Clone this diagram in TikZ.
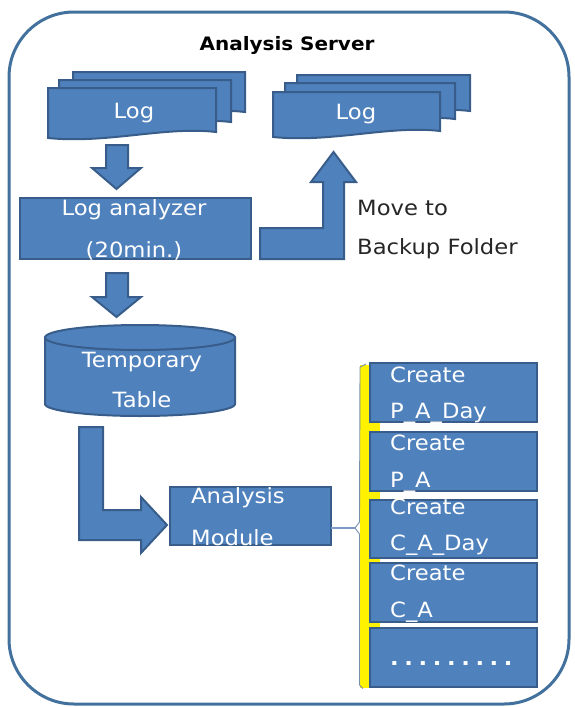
\documentclass[tikz,border=0pt]{standalone}
\usepackage{fontspec}
\setmainfont{DejaVu Sans}[FakeStretch=1.08]
\definecolor{boxfill}{HTML}{4F81BD}
\definecolor{boxline}{HTML}{385D8A}
\definecolor{frameline}{HTML}{41719C}
\definecolor{connline}{HTML}{7F9CC8}
\newcommand\docshape[4]{\filldraw[blk] (#1,#3) -- (#2,#3) -- (#2,{#4-6}) .. controls ({#2-0.3*(#2-#1)},{#4-12}) and ({#1+0.35*(#2-#1)},{#4+6}) .. (#1,#4) -- cycle;}
\newcommand\dd{.\kern5.6pt}
\begin{document}
\begin{tikzpicture}[x=1pt,y=-1pt,
  blk/.style={fill=boxfill, draw=boxline, line width=2pt},
  boxnode/.style={blk, inner sep=0pt, outer sep=0pt},
  wtxt/.style={text=white, font=\fontsize{21}{23}\selectfont, inner sep=0pt},
  btxt/.style={text=black!85, font=\fontsize{21}{23}\selectfont, inner sep=0pt, anchor=west},
  conn/.style={draw=connline, line width=1.2pt}]
\useasboundingbox (0,0) rectangle (574,707);
% outer frame
\draw[frameline, line width=3pt, rounded corners=65pt] (9,12) rectangle (569,704);
\node[font=\bfseries\fontsize{18.5}{20}\selectfont, inner sep=0pt] (title) at (287,45) {Analysis Server};
% Log stack 1
\docshape{73}{245}{72}{118}
\docshape{59}{231}{80}{128}
\docshape{48}{216}{88}{138}
\node[wtxt] (log1) at (134,113) {Log};
% Log stack 2
\docshape{297}{470}{75}{117}
\docshape{285}{455}{83}{125}
\docshape{273}{440}{92}{137}
\node[wtxt] (log2) at (356,114) {Log};
% arrow Log -> Log analyzer
\filldraw[blk] (106,145) -- (128,145) -- (128,168) -- (141,168) -- (116.5,189) -- (92,168) -- (106,168) -- cycle;
% Log analyzer box
\node[boxnode, minimum width=231pt, minimum height=61pt] (la) at (135.5,228.5) {};
\node[wtxt] (la1) at (134,210) {Log analyzer};
\node[wtxt] (la2) at (134,251) {(20min.)};
% bent arrow up to backup Log
\filldraw[blk] (260,228) -- (323,228) -- (323,182) -- (311,182) -- (333.5,152) -- (356,182) -- (344,182) -- (344,259) -- (260,259) -- cycle;
\node[btxt] (mv1) at (357,208) {Move to};
\node[btxt] (mv2) at (357,249) {Backup Folder};
% arrow Log analyzer -> Temporary Table
\filldraw[blk] (106,273) -- (128,273) -- (128,297) -- (141,297) -- (116.5,317) -- (92,297) -- (106,297) -- cycle;
% cylinder
\filldraw[blk] (45,337.5) -- (45,404) arc[start angle=180, end angle=0, x radius=95, y radius=12] -- (235,337.5) -- cycle;
\filldraw[blk] (140,337.5) ellipse[x radius=95, y radius=12.5];
\node[wtxt] (tt1) at (142,362) {Temporary};
\node[wtxt] (tt2) at (142,400) {Table};
% L arrow to Analysis Module
\filldraw[blk] (79,427) -- (103,427) -- (103,510) -- (141,510) -- (141,497) -- (167,525) -- (141,553) -- (141,540) -- (79,540) -- cycle;
% Analysis Module
\node[boxnode, minimum width=161pt, minimum height=58pt] (am) at (250.5,516) {};
\node[wtxt, anchor=west] (am1) at (191,498) {Analysis};
\node[wtxt, anchor=west] (am2) at (191,538) {Module};
% bracket
\coordinate (brk) at (355,528);
\fill[yellow] (359.5,365) rectangle (380,688);
\draw[boxline!70, line width=0.9pt] (366,364) -- (360,367) -- (359.5,522) -- (brk) -- (359.5,534) -- (359.5,685) -- (363,688.5);
\draw[conn] (am.east |- brk) -- (brk);
% create boxes
\node[boxnode, minimum width=167pt, minimum height=59pt] (c1) at (453.5,392.5) {};
\node[boxnode, minimum width=167pt, minimum height=59pt] (c2) at (453.5,461.5) {};
\node[boxnode, minimum width=167pt, minimum height=58pt] (c3) at (453.5,529) {};
\node[boxnode, minimum width=167pt, minimum height=59pt] (c4) at (453.5,592.5) {};
\node[boxnode, minimum width=167pt, minimum height=59pt] (c5) at (453.5,657.5) {};
\node[wtxt, anchor=west] (c1a) at (390,375) {Create};
\node[wtxt, anchor=west] (c1b) at (390,413) {P\_A\_Day};
\node[wtxt, anchor=west] (c2a) at (390,443) {Create};
\node[wtxt, anchor=west] (c2b) at (390,482) {P\_A};
\node[wtxt, anchor=west] (c3a) at (390,507) {Create};
\node[wtxt, anchor=west] (c3b) at (390,545) {C\_A\_Day};
\node[wtxt, anchor=west] (c4a) at (390,573) {Create};
\node[wtxt, anchor=west] (c4b) at (390,612) {C\_A};
\node[wtxt, anchor=west, font=\bfseries\fontsize{21}{23}\selectfont] (c5a) at (390,664) {\dd\dd\dd\dd\dd\dd\dd\dd.};
\end{tikzpicture}
\end{document}
